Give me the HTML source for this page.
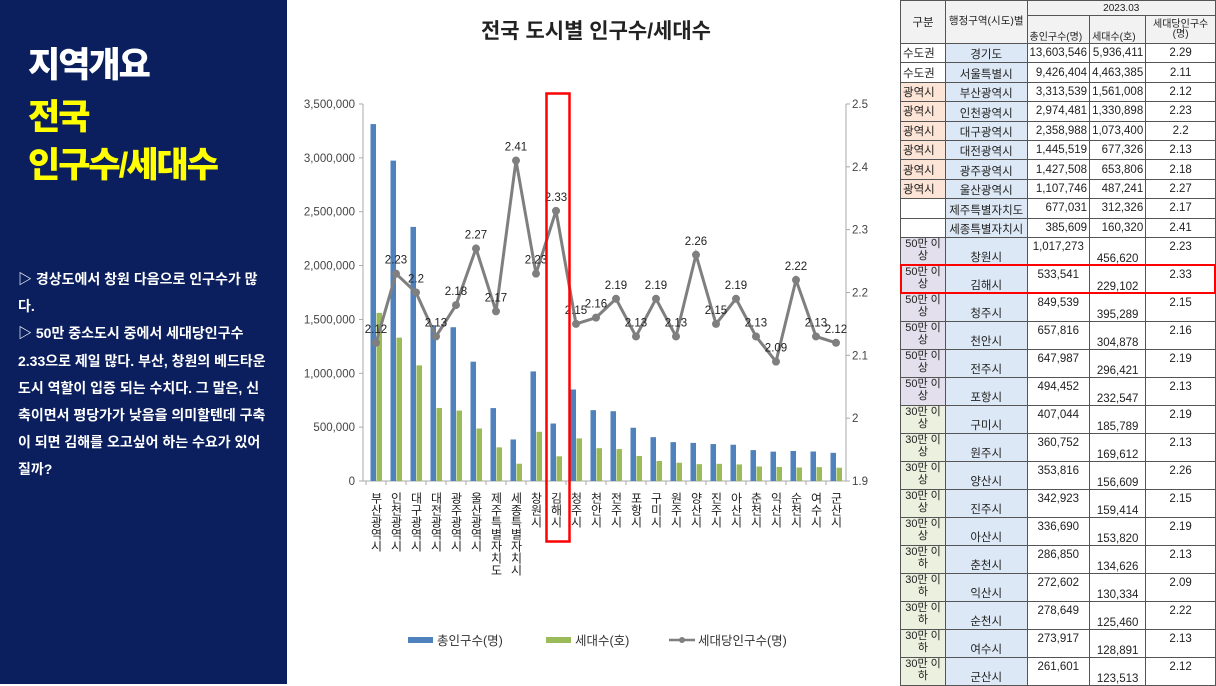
<!DOCTYPE html>
<html><head><meta charset="utf-8">
<style>
*{margin:0;padding:0;box-sizing:border-box}
body{width:1216px;height:684px;position:relative;background:#fff;font-family:"Liberation Sans","Noto Sans CJK KR",sans-serif;overflow:hidden}
#left{position:absolute;left:0;top:0;width:287px;height:684px;background:#0b1f5f}
.h{position:absolute;left:28px;font-weight:900;font-size:35px;letter-spacing:-2px;line-height:40px}
#bul{position:absolute;left:18px;top:266px;width:250px;color:#fff;font-size:14px;font-weight:bold;line-height:27.2px;letter-spacing:0px}
#tbl{position:absolute;left:900px;top:0;border-collapse:collapse;font-size:11.5px;color:#222;table-layout:fixed}
#tbl td{border:1px solid #555;padding:0 2px;overflow:hidden;white-space:nowrap}
.n{text-align:right}
.c{text-align:center}
</style></head><body>
<div id="left">
<div class="h" style="top:46px;color:#fff">지역개요</div>
<div class="h" style="top:98px;color:#ffff00">전국</div>
<div class="h" style="top:146px;color:#ffff00">인구수/세대수</div>
<div id="bul">▷ 경상도에서 창원 다음으로 인구수가 많다.<br>▷ 50만 중소도시 중에서 세대당인구수 2.33으로 제일 많다. 부산, 창원의 베드타운도시 역할이 입증 되는 수치다. 그 말은, 신축이면서 평당가가 낮음을 의미할텐데 구축이 되면 김해를 오고싶어 하는 수요가 있어질까?</div>
</div>

<svg id="chart" width="1216" height="684" style="position:absolute;left:0;top:0"></svg>

<table id="tbl"></table>

<script>
const categories=["부산광역시","인천광역시","대구광역시","대전광역시","광주광역시","울산광역시","제주특별자치도","세종특별자치시","창원시","김해시","청주시","천안시","전주시","포항시","구미시","원주시","양산시","진주시","아산시","춘천시","익산시","순천시","여수시","군산시"];
const population=[3313539,2974481,2358988,1445519,1427508,1107746,677031,385609,1017273,533541,849539,657816,647987,494452,407044,360752,353816,342923,336690,286850,272602,278649,273917,261601];
const households=[1561008,1330898,1073400,677326,653806,487241,312326,160320,456620,229102,395289,304878,296421,232547,185789,169612,156609,159414,153820,134626,130334,125460,128891,123513];
const ratio=[2.12,2.23,2.2,2.13,2.18,2.27,2.17,2.41,2.23,2.33,2.15,2.16,2.19,2.13,2.19,2.13,2.26,2.15,2.19,2.13,2.09,2.22,2.13,2.12];
const leftTicks=[0,500000,1000000,1500000,2000000,2500000,3000000,3500000];
const rightTicks=[1.9,2,2.1,2.2,2.3,2.4,2.5];

const NS="http://www.w3.org/2000/svg";
const svg=document.getElementById('chart');
const X0=366,X1=846,Y0=481,Y1=104;
const step=(X1-X0)/categories.length;
const yL=v=>Y0-(v/3500000)*(Y0-Y1);
const yR=v=>Y0-((v-1.9)/0.6)*(Y0-Y1);
const xc=i=>X0+step*(i+0.5);
function mk(tag,attrs,parent){const e=document.createElementNS(NS,tag);for(const k in attrs)e.setAttribute(k,attrs[k]);(parent||svg).appendChild(e);return e;}
function fmt(v){return v.toLocaleString('en-US');}

let t=mk('text',{x:596,y:38,'text-anchor':'middle','font-size':21,'font-weight':'bold',fill:'#222'});
t.textContent='전국 도시별 인구수/세대수';



let ax=mk('line',{x1:363,y1:Y1,x2:363,y2:Y0,stroke:'#aaa'});


let ax2=mk('line',{x1:X1,y1:Y1,x2:X1,y2:Y0,stroke:'#aaa'});


let ax3=mk('line',{x1:363,y1:Y0,x2:X1,y2:Y0,stroke:'#aaa'});



leftTicks.forEach(v=>{
  const tx=mk('text',{x:355,y:yL(v)+4,'text-anchor':'end','font-size':11.5,fill:'#444'});
  tx.textContent=fmt(v);
  
  
  mk('line',{x1:359,y1:yL(v),x2:363,y2:yL(v),stroke:'#aaa'});
});
rightTicks.forEach(v=>{
  const tx=mk('text',{x:852,y:yR(v)+4,'font-size':11.5,fill:'#444'});
  tx.textContent=String(v);
  
  
  mk('line',{x1:X1,y1:yR(v),x2:X1+4,y2:yR(v),stroke:'#aaa'});
});

categories.forEach((c,i)=>{
  const b=mk('rect',{x:xc(i)-5.5,y:yL(population[i]),width:5.5,height:Y0-yL(population[i]),fill:'#4f81bd'});
  
  
  const g=mk('rect',{x:xc(i)+0.5,y:yL(households[i]),width:5.5,height:Y0-yL(households[i]),fill:'#9bbb59'});
  
  
  mk('line',{x1:X0+step*i,y1:Y0,x2:X0+step*i,y2:Y0+4,stroke:'#aaa'});
  const lb=mk('text',{x:xc(i),y:492,'font-size':12,fill:'#222',style:'writing-mode:vertical-rl;text-orientation:upright;letter-spacing:0px'});
  lb.textContent=c;
  
  
});

const pts=ratio.map((v,i)=>xc(i)+','+yR(v)).join(' ');
const pl=mk('polyline',{points:pts,fill:'none',stroke:'#7f7f7f','stroke-width':3});


ratio.forEach((v,i)=>{
  const p=mk('circle',{cx:xc(i),cy:yR(v),r:4,fill:'#7f7f7f'});
  
  
  const l=mk('text',{x:xc(i),y:yR(v)-10,'text-anchor':'middle','font-size':11.5,fill:'#222'});
  l.textContent=String(v);
  
  
});

let hb=mk('rect',{x:546.5,y:93.5,width:23,height:448,fill:'none',stroke:'#ff0000','stroke-width':2.5});



[[408,'#4f81bd','총인구수(명)','legend-population'],[546,'#9bbb59','세대수(호)','legend-households']].forEach(a=>{
  const r=mk('rect',{x:a[0],y:637,width:25,height:6,fill:a[1]});
  
  
  const tx=mk('text',{x:a[0]+29,y:645,'font-size':12.5,fill:'#333'});
  tx.textContent=a[2];
  
  
});
mk('line',{x1:669,y1:640,x2:695,y2:640,stroke:'#7f7f7f','stroke-width':2.5});
mk('circle',{cx:682,cy:640,r:3,fill:'#7f7f7f'});
let lt=mk('text',{x:698,y:645,'font-size':12.5,fill:'#333'});
lt.textContent='세대당인구수(명)';



// table
const tbl=document.getElementById('tbl');
const tGroup=["수도권","수도권","광역시","광역시","광역시","광역시","광역시","광역시","",""];
const tNames=["경기도","서울특별시","부산광역시","인천광역시","대구광역시","대전광역시","광주광역시","울산광역시","제주특별자치도","세종특별자치시"];
const tPop=["13,603,546","9,426,404","3,313,539","2,974,481","2,358,988","1,445,519","1,427,508","1,107,746","677,031","385,609"];
const tHh=["5,936,411","4,463,385","1,561,008","1,330,898","1,073,400","677,326","653,806","487,241","312,326","160,320"];
const tRt=["2.29","2.11","2.12","2.23","2.2","2.13","2.18","2.27","2.17","2.41"];
let html='<colgroup><col style="width:46px"><col style="width:82px"><col style="width:61px"><col style="width:55px"><col style="width:72px"></colgroup>';
html+='<tr style="height:15px"><td rowspan="2" class="c" style="background:#f2f2f2">구분</td><td rowspan="2" class="c" style="background:#f2f2f2;vertical-align:top;padding-top:12px;font-size:10.5px">행정구역(시도)별</td><td colspan="3" class="c" style="background:#f2f2f2;font-size:10px">2023.03</td></tr>';
html+='<tr style="height:28px"><td style="vertical-align:bottom;font-size:10px;background:#f2f2f2">총인구수(명)</td><td style="vertical-align:bottom;font-size:10px;background:#f2f2f2">세대수(호)</td><td class="c" style="font-size:10px;line-height:10px;background:#f2f2f2">세대당인구수<br>(명)</td></tr>';
for(let i=0;i<10;i++){
  const bg=tGroup[i]==='광역시'?'#fce4d6':'#fff';
  html+=`<tr style="height:19.4px"><td style="background:${bg}">${tGroup[i]}</td><td class="c" style="background:#dde8f6;vertical-align:bottom">${tNames[i]}</td><td class="n">${tPop[i]}</td><td class="n">${tHh[i]}</td><td class="c">${tRt[i]}</td></tr>`;
}
for(let i=8;i<24;i++){
  const grp=i<14?'50만 이<br>상':(i<19?'30만 이<br>상':'30만 이<br>하');
  const bg=i<14?'#e4dfec':'#ebf1de';
  html+=`<tr style="height:28px"><td class="c" style="background:${bg};font-size:11px;line-height:12px;vertical-align:top">${grp}</td><td class="c" style="background:#dde8f6;vertical-align:bottom">${categories[i]}</td><td class="c" style="vertical-align:top;padding-top:3px">${fmt(population[i])}</td><td class="c" style="vertical-align:bottom">${fmt(households[i])}</td><td class="c" style="vertical-align:top;padding-top:3px">${ratio[i]}</td></tr>`;
}
tbl.innerHTML=html;
</script>
<div style="position:absolute;left:900px;top:264px;width:316px;height:30px;border:2.5px solid #ff0000"></div>
</body></html>
